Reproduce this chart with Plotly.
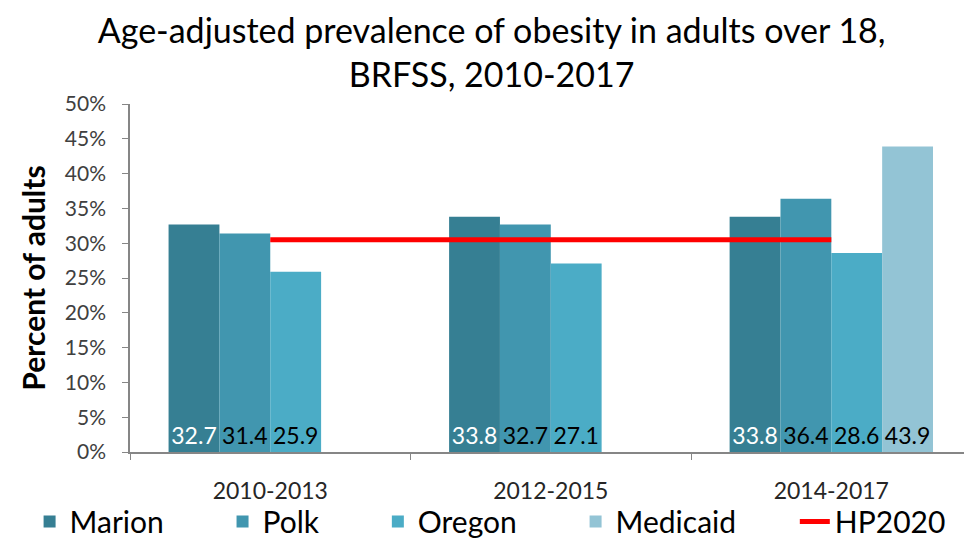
import plotly.graph_objects as go

categories = ["2010-2013", "2012-2015", "2014-2017"]
marion = [32.7, 33.8, 33.8]
polk = [31.4, 32.7, 36.4]
oregon = [25.9, 27.1, 28.6]
medicaid = [None, None, 43.9]
hp2020 = [30.5, 30.5, 30.5]
y_ticks = [0, 5, 10, 15, 20, 25, 30, 35, 40, 45, 50]
y_tick_labels = [f"{v}%" for v in y_ticks]

FONT = "Lato"
PAD = "\u00a0" * 7  # spacing after legend text, like the original legend
series = [
    ("Marion", marion, "#367F93", "white"),
    ("Polk", polk, "#4196AF", "black"),
    ("Oregon", oregon, "#4BACC6", "black"),
    ("Medicaid", medicaid, "#93C4D5", "black"),
]

fig = go.Figure()
for name, vals, color, tcolor in series:
    fig.add_trace(go.Bar(
        x=categories, y=vals, name=name + PAD,
        marker=dict(color=color, line=dict(width=0)),
        text=[None if v is None else f"{v:.1f}" for v in vals],
        textposition="inside", insidetextanchor="start",
        textangle=0,
        textfont=dict(family=FONT, size=23, color=tcolor),
        cliponaxis=False,
        hovertemplate=name + ": %{y:.1f}%<extra></extra>",
    ))

fig.add_trace(go.Scatter(
    x=categories, y=hp2020, name="HP2020", mode="lines",
    line=dict(color="#FF0000", width=5),
))

fig.update_layout(
    width=964, height=548,
    margin=dict(l=130, r=0, t=104, b=94),
    paper_bgcolor="white", plot_bgcolor="white",
    barmode="group", bargap=0.275, bargroupgap=0,
    uniformtext=dict(minsize=23, mode="show"),
    title=dict(
        text="Age-adjusted prevalence of obesity in adults over 18,<br>BRFSS, 2010-2017",
        x=0.51, xanchor="center", yref="container", y=0.922, yanchor="top",
        font=dict(family=FONT, size=34, color="black"),
    ),
    legend=dict(
        orientation="h", xref="paper", x=-0.1204, xanchor="left",
        yref="paper", y=-0.2, yanchor="middle",
        bgcolor="rgba(0,0,0,0)",
        font=dict(family=FONT, size=30, color="black"),
        traceorder="normal",
    ),
    xaxis=dict(
        type="category", range=[-0.5, 2.473],
        showline=True, linecolor="#868686", linewidth=1.5,
        ticks="outside", tickson="boundaries", ticklen=6, tickcolor="#868686",
        tickfont=dict(family=FONT, size=23, color="#262626"),
        ticklabelstandoff=18,
        showgrid=False, zeroline=False, automargin=False,
    ),
    yaxis=dict(
        range=[0, 50], tickvals=y_ticks, ticktext=y_tick_labels,
        showline=True, linecolor="#868686", linewidth=1.5,
        ticks="outside", ticklen=6, tickcolor="#868686",
        tickfont=dict(family=FONT, size=21, color="#404040"),
        ticklabelstandoff=12,
        showgrid=False, zeroline=False, automargin=False,
        title=dict(text="<b>Percent of adults</b>", standoff=10,
                   font=dict(family=FONT, size=30, color="black")),
    ),
)

fig.write_html("out.html", config={"displayModeBar": False},
               post_script="document.body.style.margin='0';")
